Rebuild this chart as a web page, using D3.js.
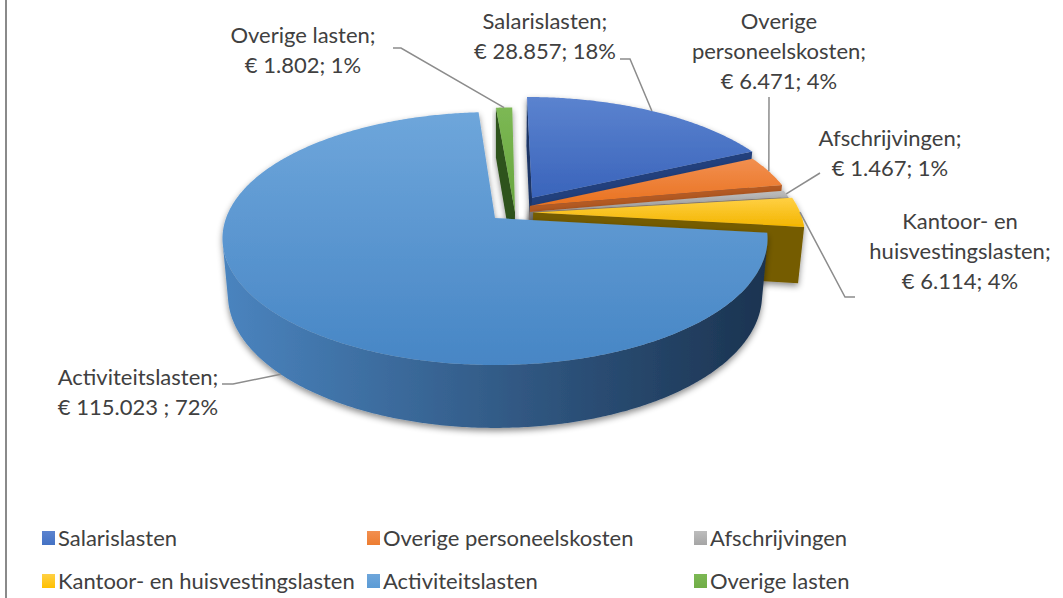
<!DOCTYPE html>
<html>
<head>
<meta charset="utf-8">
<script src="https://cdn.jsdelivr.net/npm/d3@7"></script>
<style>
  body { margin: 0; background: #fff; }
  svg { display: block; font-family: Lato, 'Noto Sans', sans-serif; }
</style>
</head>
<body>
<svg id="chart" width="1063" height="598"></svg>
<script>
// data
const categories = ['Salarislasten', 'Overige personeelskosten', 'Afschrijvingen',
  'Kantoor- en huisvestingslasten', 'Activiteitslasten', 'Overige lasten']
const values = [28857, 6471, 1467, 6114, 115023, 1802]
const labelLines = [['Salarislasten;'], ['Overige', 'personeelskosten;'], ['Afschrijvingen;'],
  ['Kantoor- en', 'huisvestingslasten;'], ['Activiteitslasten;'], ['Overige lasten;']]
const labelSep = ['; ', '; ', '; ', '; ', ' ; ', '; ']

// colours per slice
const baseColors = ['#4472c4', '#ed7d31', '#a5a5a5', '#ffc000', '#5b9bd5', '#70ad47']
const topColors = [['#5b83cf', '#3a64bb'], ['#f28f50', '#e9721f'], ['#bdbdbd', '#9e9e9e'],
  ['#ffd044', '#f3b500'], ['#6ea6db', '#4786c5'], ['#7cb854', '#68a53e']]
const wallColors = [['#23417d', '#1a3466'], ['#b45a22', '#8c4418'], ['#7a7a7a', '#5e5e5e'],
  ['#745b00', '#5e4a00'], ['#4a84bf', '#1b3350'], ['#44702a', '#2f521c']]

// explode offset of each slice, in pie-radius units (x, depth)
const explode = [[0.1415, 0.1686], [0.132, 0.10], [0.13, 0.05], [0.143, 0.045], [0, 0], [0.075, 0.05]]

// label layout: centre x, first baseline, leader start points, anchor on top (0) or bottom (1) rim
const labelPos = [[545, 29], [779, 29], [890, 146], [960, 229], [138, 385], [303, 43]]
const leaderStart = [[[620, 59], [630, 59]], [[769, 97]], [[820, 173]],
  [[855, 297], [845, 297]], [[222, 384], [233, 384]], [[393, 48], [401, 48]]]
const leaderRim = [0, 0, 0, 0, 1, 0]

// camera / projection settings
const view = { f: 1475, D: 5.485, tilt: Math.asin(0.458), cx: 495, cy: 218, H: 0.238 }
const cosT = Math.cos(view.tilt)
const sinT = Math.sin(view.tilt)

const fontSize = '22px'

const svg = d3.select('#chart')
const defs = svg.append('defs')

// soft shadow like the office 3d pie
const shadow = defs.append('filter').attr('id', 'shadow')
  .attr('x', '-20%').attr('y', '-20%').attr('width', '140%').attr('height', '140%')
shadow.append('feDropShadow').attr('dx', 0).attr('dy', 3).attr('stdDeviation', 3)
  .attr('flood-color', '#000').attr('flood-opacity', 0.45)

function gradient(id, stops, horizontal) {
  const g = defs.append('linearGradient').attr('id', id)
    .attr('x1', 0).attr('y1', 0).attr('x2', horizontal ? 1 : 0).attr('y2', horizontal ? 0 : 1)
  stops.forEach((c, i) => g.append('stop').attr('offset', i / (stops.length - 1)).attr('stop-color', c))
  return `url(#${id})`
}

// perspective projection of a point on the pie (X right, Y up, Z away)
function proj(X, Y, Z) {
  const yc = Y * cosT + Z * sinT
  const zc = view.D + Z * cosT - Y * sinT
  return [view.cx + view.f * X / zc, view.cy - view.f * yc / zc]
}

const total = d3.sum(values)
const nl = d3.formatLocale({ decimal: ',', thousands: '.', grouping: [3], currency: ['€ ', ''] })
const fmtMoney = nl.format('$,')

const pie = d3.pie().sort(null).value(d => d)
const arcs = pie(values)

const line = d3.line()
const poly = pts => line(pts) + 'Z'

// slice data with geometry
const slices = arcs.map((d, i) => {
  const [ex, ez] = explode[i]
  const a0 = d.startAngle
  const a1 = d.endAngle
  const rim = (a, Y) => proj(ex + Math.sin(a), Y, ez + Math.cos(a))
  const mid = (a0 + a1) / 2
  return { i, a0, a1, ex, ez, rim, mid }
})

const gPie = svg.append('g')

// far slices first, the big front slice last
const order = slices.slice().sort((a, b) => Math.cos(b.mid) - Math.cos(a.mid))

order.forEach(s => {
  const { i, a0, a1, ex, ez, rim } = s
  const H = view.H
  const g = gPie.append('g').attr('filter', 'url(#shadow)')
  const wallFill = gradient('wall' + i, wallColors[i], true)
  const topFill = gradient('top' + i, topColors[i], false)

  const camDepth = view.D * cosT
  const n = Math.max(6, Math.ceil((a1 - a0) / 0.01))
  const angles = d3.range(n + 1).map(j => a0 + (a1 - a0) * j / n)

  // outer wall, only the parts facing the camera
  const facing = a => -(camDepth + ez) * Math.cos(a) - ex * Math.sin(a) > 1
  let runs = []
  let cur = null
  angles.forEach(a => {
    if (facing(a)) {
      if (!cur) { cur = []; runs.push(cur) }
      cur.push(a)
    } else cur = null
  })
  runs.forEach(run => {
    if (run.length < 2) return
    const pts = run.map(a => rim(a, 0)).concat(run.slice().reverse().map(a => rim(a, -H)))
    g.append('path').attr('d', poly(pts)).attr('fill', wallFill)
  })

  // radial walls
  const apexTop = proj(ex, 0, ez)
  const apexBot = proj(ex, -H, ez)
  const startVis = ex * Math.cos(a0) - Math.sin(a0) * (camDepth + ez) > 0
  const endVis = -ex * Math.cos(a1) + Math.sin(a1) * (camDepth + ez) > 0
  if (startVis) {
    g.append('path').attr('d', poly([apexTop, rim(a0, 0), rim(a0, -H), apexBot]))
      .attr('fill', wallColors[i][1])
  }
  if (endVis) {
    g.append('path').attr('d', poly([apexTop, rim(a1, 0), rim(a1, -H), apexBot]))
      .attr('fill', wallColors[i][0])
  }

  // top face
  g.append('path').attr('d', poly([apexTop].concat(angles.map(a => rim(a, 0)))))
    .attr('fill', topFill)
})

// leader lines
const gLabels = svg.append('g')
slices.forEach(s => {
  const anchor = s.rim(s.mid, leaderRim[s.i] ? -view.H : 0)
  gLabels.append('path')
    .attr('d', line(leaderStart[s.i].concat([anchor])))
    .attr('fill', 'none')
    .attr('stroke', '#8c8c8c')
    .attr('stroke-width', 1.5)
})

// data labels
slices.forEach(s => {
  const i = s.i
  const pct = Math.round(values[i] / total * 100) + '%'
  const lines = labelLines[i].concat([fmtMoney(values[i]) + labelSep[i] + pct])
  const t = gLabels.append('text')
    .attr('x', labelPos[i][0])
    .attr('y', labelPos[i][1])
    .attr('text-anchor', 'middle')
    .style('font-size', fontSize)
    .style('fill', '#404040')
  lines.forEach((l, k) => {
    t.append('tspan').attr('x', labelPos[i][0]).attr('dy', k === 0 ? 0 : 30).text(l)
  })
})

// legend, 3 columns x 2 rows
const legendX = [42, 367, 694]
const legendY = [538, 581]
const legend = svg.append('g')
categories.forEach((c, i) => {
  const x = legendX[i % 3]
  const y = legendY[Math.floor(i / 3)]
  legend.append('rect')
    .attr('x', x).attr('y', y - 7)
    .attr('width', 13).attr('height', 14)
    .attr('fill', gradient('leg' + i, [topColors[i][0], baseColors[i]], false))
  legend.append('text')
    .attr('x', x + 16).attr('y', y + 8)
    .style('font-size', fontSize)
    .style('fill', '#404040')
    .text(c)
})

// frame line on the left
svg.append('line')
  .attr('x1', 6).attr('x2', 6).attr('y1', 0).attr('y2', 598)
  .attr('stroke', '#8a8a8a').attr('stroke-width', 2)
</script>
</body>
</html>
